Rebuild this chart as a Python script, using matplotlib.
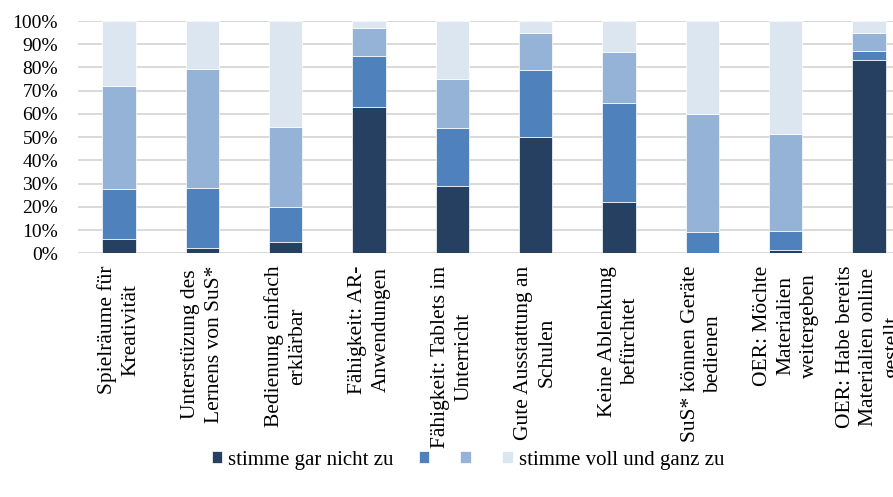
import matplotlib.pyplot as plt
import numpy as np

kategorien = ['Spielräume für\nKreativität', 'Unterstüzung des\nLernens von SuS*',
              'Bedienung einfach\nerklärbar', 'Fähigkeit: AR-\nAnwendungen',
              'Fähigkeit: Tablets im\nUnterricht', 'Gute Ausstattung an\nSchulen',
              'Keine Ablenkung\nbefürchtet', 'SuS* können Geräte\nbedienen',
              'OER: Möchte\nMaterialien\nweitergeben',
              'OER: Habe bereits\nMaterialien online\ngestellt']

# Anteile in Prozent
gar_nicht = [6.2, 2.4, 5.0, 62.8, 29.1, 50.0, 22.2, 0.0, 1.3, 83.3]
stufe2 = [21.5, 25.7, 14.8, 22.0, 25.0, 28.7, 42.3, 9.3, 8.4, 3.9]
stufe3 = [44.4, 51.3, 34.6, 12.3, 20.9, 16.0, 22.3, 50.7, 41.6, 7.5]
voll = [27.9, 20.6, 45.6, 2.9, 25.0, 5.3, 13.2, 40.0, 48.7, 5.3]

legende = ['stimme gar nicht zu', '', '', 'stimme voll und ganz zu']
farben = ['#264061', '#4F81BD', '#95B3D7', '#DCE6F1']

plt.rcParams['font.family'] = ['Liberation Serif', 'DejaVu Serif']

fig = plt.figure(figsize=(8.93, 4.97), dpi=100)
ax = fig.add_axes([77.5 / 893, 1 - 253.3 / 497, 833 / 893, 232.3 / 497])

x = np.arange(len(kategorien))
serien = [gar_nicht, stufe2, stufe3, voll]
unten = np.zeros(len(kategorien))
handles = []
for werte, farbe in zip(serien, farben):
    w = np.array(werte) / 100
    b = ax.bar(x, w, 0.4, bottom=unten, color=farbe, edgecolor='white',
               linewidth=0.5, zorder=3)
    handles.append(b)
    unten += w

ax.set_xlim(-0.5, len(kategorien) - 0.5)
ax.set_ylim(0, 1)
ax.set_yticks(np.arange(0, 1.01, 0.1))
ax.set_yticklabels([f'{i}%' for i in range(0, 101, 10)], fontsize=14)
ax.yaxis.grid(True, color='#d9d9d9', linewidth=1.4, zorder=0)
ax.set_axisbelow(True)
for s in ax.spines.values():
    s.set_visible(False)
ax.tick_params(axis='y', length=0, pad=14)
ax.tick_params(axis='x', length=0, pad=9)
ax.set_xticks(x)
ax.set_xticklabels(kategorien, rotation=90, fontsize=15.5, ha='center', va='top',
                   multialignment='center', linespacing=1.32)

fig.legend(handles, legende, loc='center', bbox_to_anchor=(0.524, 1 - 460 / 497),
           ncol=4, frameon=False, fontsize=15, handlelength=0.5, handleheight=0.5,
           handletextpad=0.3, columnspacing=1.2)

fig.savefig('out.png', dpi=100)
